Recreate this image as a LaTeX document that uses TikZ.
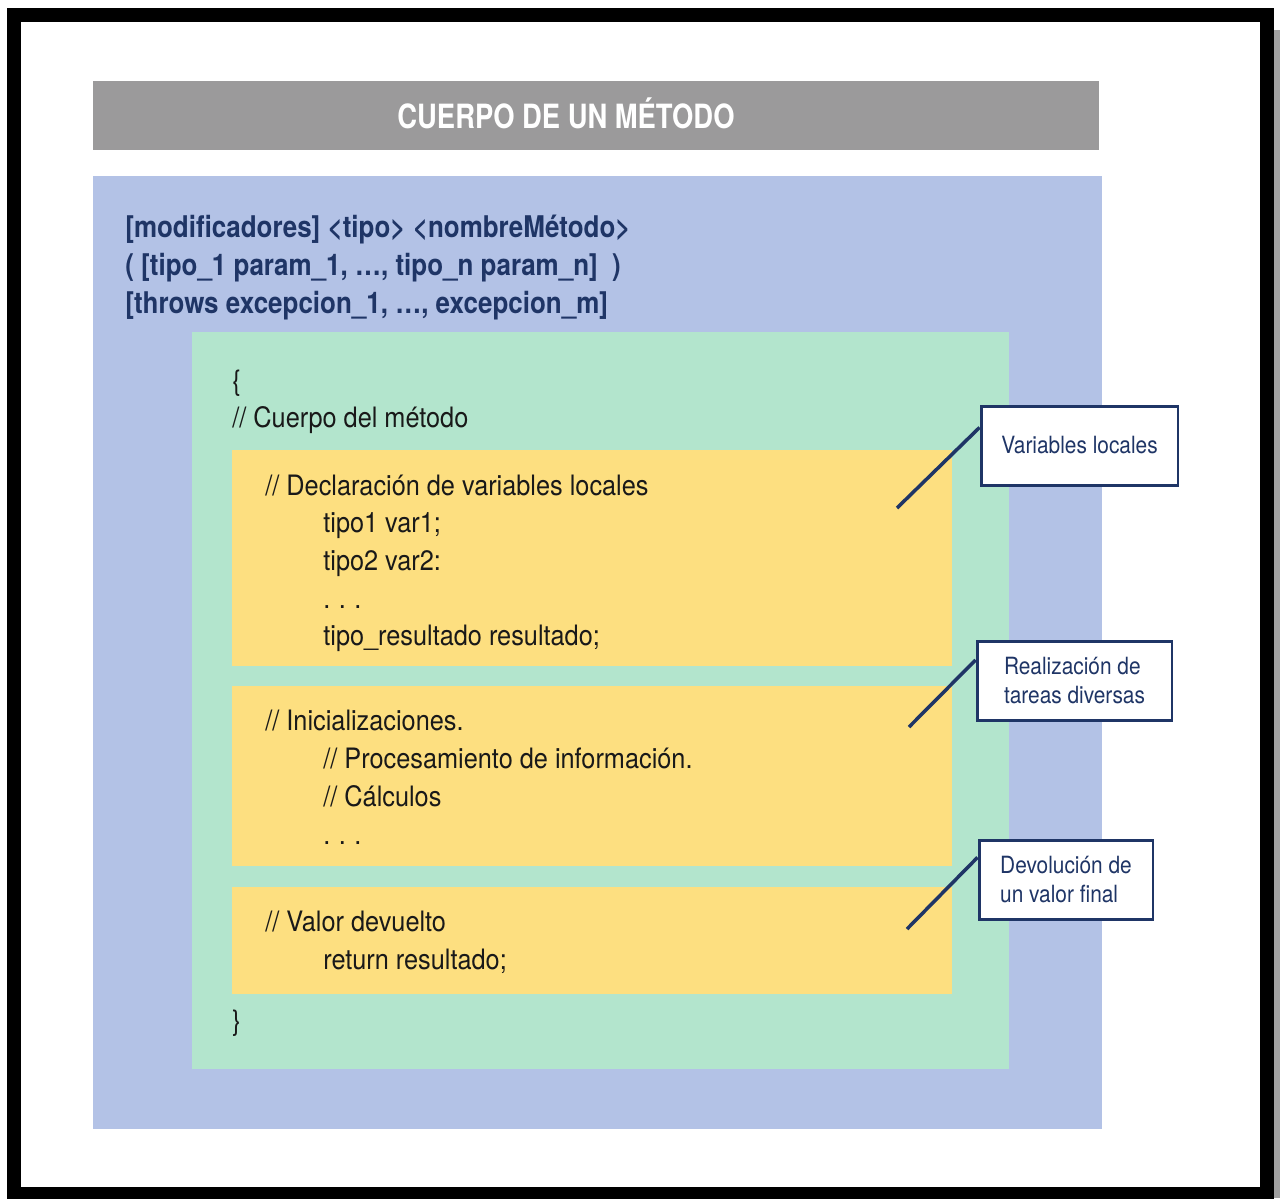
\documentclass[tikz,border=0pt]{standalone}
\usepackage{fontspec}
\setmainfont[FakeStretch=0.9]{TeX Gyre Heros}
\newfontfamily\sigfont[FakeStretch=0.87]{TeX Gyre Heros}
\newfontfamily\titlefont[FakeStretch=0.82]{TeX Gyre Heros}
\newfontfamily\notefont[FakeStretch=0.88]{TeX Gyre Heros}
\usetikzlibrary{calc}

\definecolor{barcolor}{HTML}{9B9A9B}
\definecolor{bluecolor}{HTML}{B3C2E6}
\definecolor{greencolor}{HTML}{B3E5CD}
\definecolor{yellowcolor}{HTML}{FDDF80}
\definecolor{navycolor}{HTML}{1F3566}
\definecolor{shadecolor}{HTML}{A0A0A0}

\tikzset{
  code/.style={anchor=base west,inner sep=0pt,font=\fontsize{16}{18}\selectfont,text=black!90},
  sig/.style={anchor=base west,inner sep=0pt,font=\sigfont\fontsize{17}{19}\selectfont\bfseries,text=navycolor},
  note/.style={draw=navycolor,line width=1.7pt,fill=white,align=left,text=navycolor,
    font=\notefont\fontsize{13.5}{17}\selectfont,inner sep=0pt},
  pointer/.style={draw=navycolor,line width=2pt}
}

\begin{document}
\begin{tikzpicture}[x=0.02cm,y=-0.02cm]
        \useasboundingbox (0,0) rectangle (1280,1198);

        % frame
        \fill[shadecolor] (1274,30) rectangle (1280,1198);
        \draw[line width=0.28cm] (14,15) rectangle (1267,1194);

        % panels
        \fill[barcolor] (93,81) rectangle (1099,150);
        \fill[bluecolor] (93,176) rectangle (1102,1129);
        \fill[greencolor] (192,332) rectangle (1009,1069);
        \fill[yellowcolor] (232,450) rectangle (952,666);
        \fill[yellowcolor] (232,686) rectangle (952,866);
        \fill[yellowcolor] (232,887) rectangle (952,994);

        \node[text=white,font=\titlefont\fontsize{19}{21}\selectfont\bfseries] (title) at (566,113)
          {CUERPO DE UN MÉTODO};

        \begin{scope}[every node/.style={sig}]
          \node (sig1) at (125,237) {[modificadores] <tipo> <nombreMétodo>};
          \node (sig2) at (125,275) {( [tipo\_1 param\_1, …, tipo\_n param\_n]\ \ )};
          \node (sig3) at (125,313) {[throws excepcion\_1, …, excepcion\_m]};
        \end{scope}

        \begin{scope}[every node/.style={code}]
          \node (open)  at (232,390) {\{};
          \node (body)  at (232,427) {// Cuerpo del método};
          \node (decl)  at (265,495) {// Declaración de variables locales};
          \node (var1)  at (323,532) {tipo1 var1;};
          \node (var2)  at (323,570) {tipo2 var2:};
          \node (dots1) at (323,608) {.\hspace{0.3em}.\hspace{0.3em}.};
          \node (res)   at (323,645) {tipo\_resultado resultado;};
          \node (init)  at (265,730) {// Inicializaciones.};
          \node (proc)  at (323,768) {// Procesamiento de información.};
          \node (calc)  at (323,806) {// Cálculos};
          \node (dots2) at (323,844) {.\hspace{0.3em}.\hspace{0.3em}.};
          \node (val)   at (265,931) {// Valor devuelto};
          \node (ret)   at (323,969) {return resultado;};
          \node (close) at (232,1030) {\}};
        \end{scope}

        % callouts
        \node[note,minimum width=3.94cm,minimum height=1.58cm] (vloc) at (1079.5,445.5)
          {Variables locales};
        \node[note,minimum width=3.9cm,minimum height=1.58cm] (tareas) at (1074.5,680.5)
          {Realización de\\tareas diversas};
        \node[note,minimum width=3.48cm,minimum height=1.58cm] (final) at (1066,879.5)
          {Devolución de\\un valor final};

        \coordinate (p1) at (897,508);
        \coordinate (p2) at (909,727);
        \coordinate (p3) at (907,929);
        \draw[pointer] (p1) -- ($(vloc.north west)!0.28!(vloc.south west)$);
        \draw[pointer] (p2) -- ($(tareas.north west)!0.25!(tareas.south west)$);
        \draw[pointer] (p3) -- ($(final.north west)!0.23!(final.south west)$);

      \end{tikzpicture}
\end{document}
